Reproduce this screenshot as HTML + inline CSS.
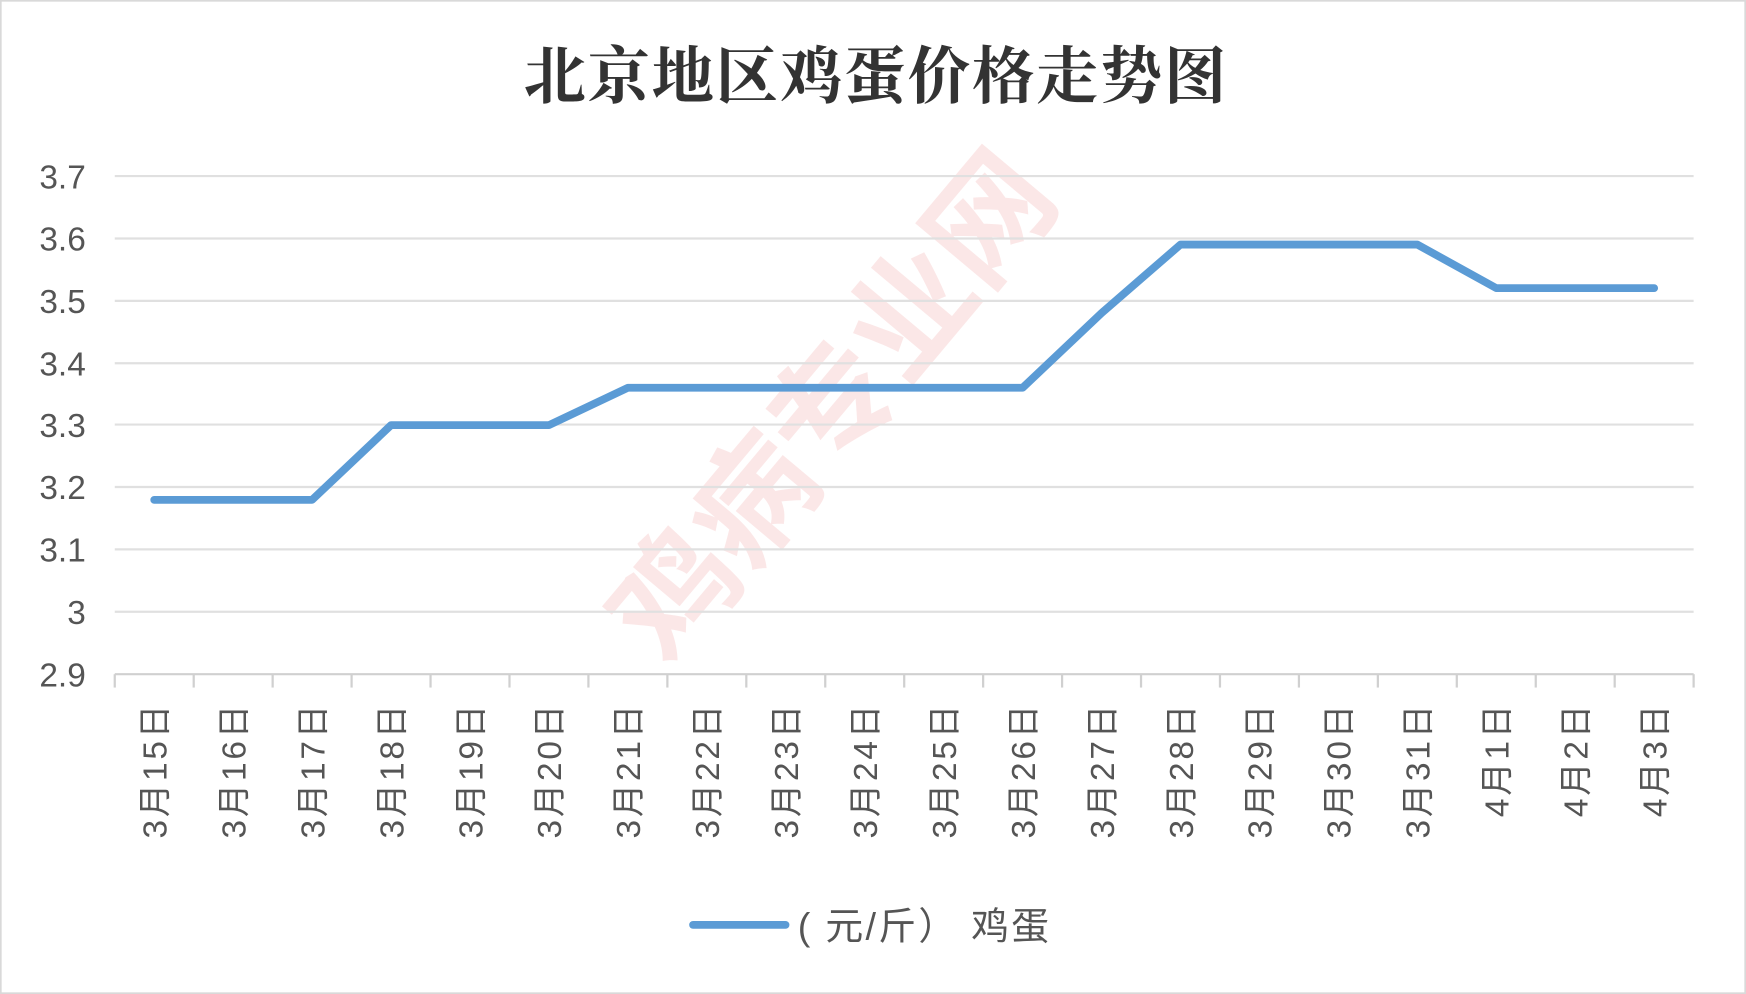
<!DOCTYPE html>
<html><head><meta charset="utf-8"><style>html,body{margin:0;padding:0;background:#fff}svg{display:block}</style></head>
<body>
<svg width="1746" height="994" viewBox="0 0 1567 892" preserveAspectRatio="none" xmlns="http://www.w3.org/2000/svg" font-family="Liberation Sans, Noto Sans CJK SC, sans-serif">
<rect x="0.5" y="0.5" width="1566" height="891" fill="#fff" stroke="#d9d9d9" stroke-width="2"/>
<text x="786" y="88" text-anchor="middle" font-size="56" font-weight="bold" fill="#333" letter-spacing="1.5" font-family="Noto Serif CJK SC, serif">北京地区鸡蛋价格走势图</text>
<g opacity="0.1" fill="#e02020" font-weight="bold" font-size="110" font-family="Noto Sans CJK SC, sans-serif">
<text transform="translate(600,600) rotate(-50)">鸡病专业网</text>
</g>
<g stroke="#e0e0e0" stroke-width="2">
<line x1="103" x2="1520" y1="158" y2="158"/><line x1="103" x2="1520" y1="214" y2="214"/><line x1="103" x2="1520" y1="270" y2="270"/><line x1="103" x2="1520" y1="326" y2="326"/><line x1="103" x2="1520" y1="381" y2="381"/><line x1="103" x2="1520" y1="437" y2="437"/><line x1="103" x2="1520" y1="493" y2="493"/><line x1="103" x2="1520" y1="549" y2="549"/>
<line x1="103" x2="1520" y1="605" y2="605" stroke="#d0d0d0"/>
</g>
<g stroke="#d0d0d0" stroke-width="2" id="ticks"></g>
<g font-size="30" fill="#555" text-anchor="end">
<text x="77" y="169">3.7</text><text x="77" y="225">3.6</text><text x="77" y="281">3.5</text><text x="77" y="337">3.4</text><text x="77" y="392">3.3</text><text x="77" y="448">3.2</text><text x="77" y="504">3.1</text><text x="77" y="560">3</text><text x="77" y="616">2.9</text>
</g>
<g id="xl" font-size="30" fill="#555" text-anchor="end" letter-spacing="2.5"></g>
<polyline id="ln" fill="none" stroke="#5b9bd5" stroke-width="7" stroke-linecap="round" stroke-linejoin="round"/>
<line x1="622" x2="705" y1="830" y2="830" stroke="#5b9bd5" stroke-width="7" stroke-linecap="round"/>
<text x="716" y="843" font-size="34" fill="#555" letter-spacing="2">( 元/斤） 鸡蛋</text>
<script>
var ns="http://www.w3.org/2000/svg";
var labels=["3月15日","3月16日","3月17日","3月18日","3月19日","3月20日","3月21日","3月22日","3月23日","3月24日","3月25日","3月26日","3月27日","3月28日","3月29日","3月30日","3月31日","4月1日","4月2日","4月3日"];
var d=[3.18,3.18,3.18,3.30,3.30,3.30,3.36,3.36,3.36,3.36,3.36,3.36,3.48,3.59,3.59,3.59,3.59,3.52,3.52,3.52];
var w=(1520-103)/20,pts=[];
var tk=document.getElementById("ticks"),xl=document.getElementById("xl");
for(var i=0;i<=20;i++){var l=document.createElementNS(ns,"line");var x=103+i*w;l.setAttribute("x1",x);l.setAttribute("x2",x);l.setAttribute("y1",605);l.setAttribute("y2",617);tk.appendChild(l);}
for(var i=0;i<20;i++){var cx=103+w*(i+0.5);pts.push(cx+","+(605-(d[i]-2.9)*558.75));
var t=document.createElementNS(ns,"text");t.setAttribute("transform","translate("+(cx+11)+",630) rotate(-90)");t.textContent=labels[i];xl.appendChild(t);}
document.getElementById("ln").setAttribute("points",pts.join(" "));
</script>
</svg>
</body></html>
